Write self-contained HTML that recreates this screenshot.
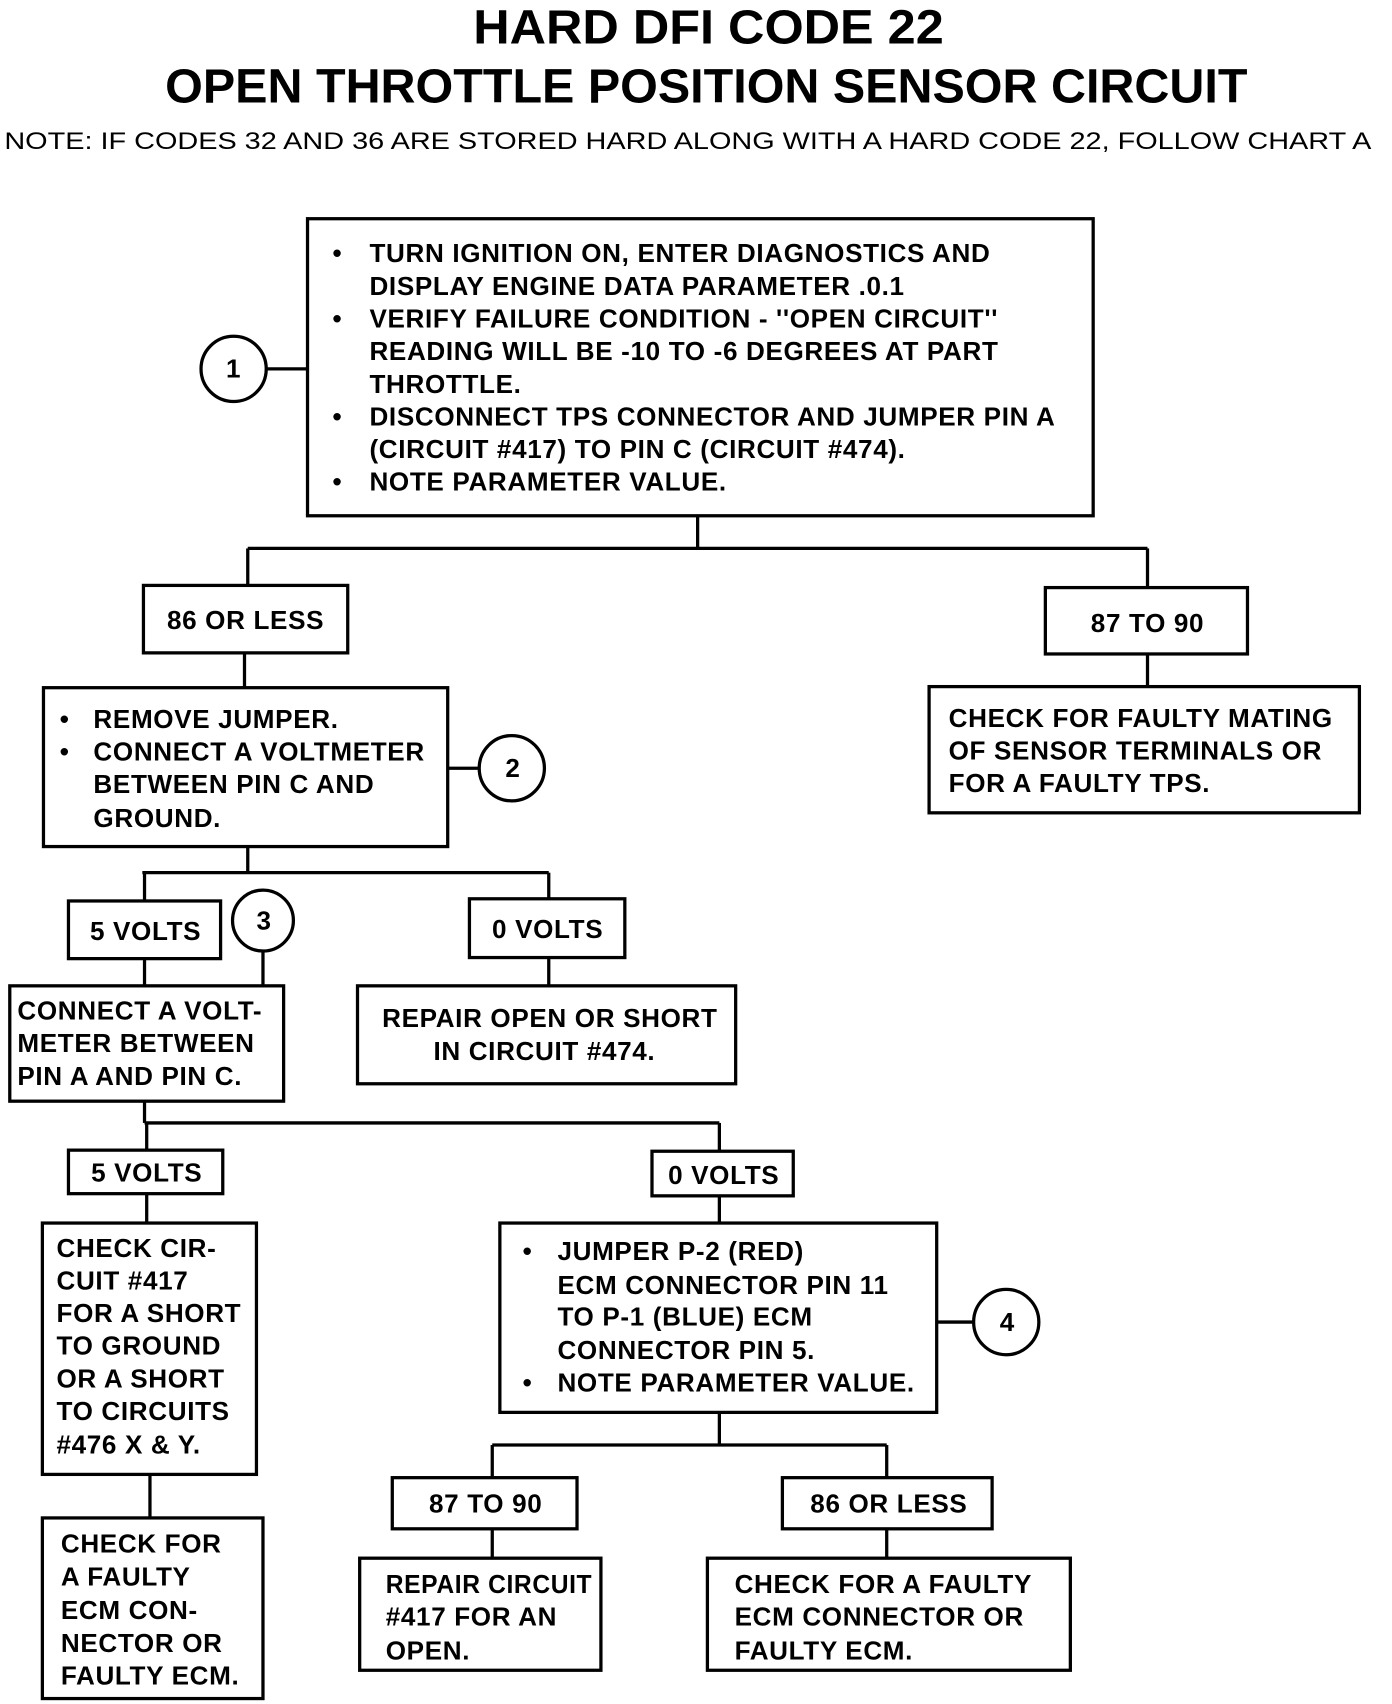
<!DOCTYPE html>
<html><head><meta charset="utf-8"><style>
html,body{margin:0;padding:0;background:#fff;}
svg{display:block;}
text{font-family:"Liberation Sans",Arial,sans-serif;font-weight:bold;fill:#000;}
.t{font-size:24px;letter-spacing:0.6px;}
.c{text-anchor:middle;}
rect,line,circle{stroke:#000;stroke-width:3;fill:none;}
</style></head><body>
<svg width="1392" height="1704" viewBox="0 0 1281 1566" preserveAspectRatio="none">
<text x="652" y="40" class="c" font-size="44" textLength="433" lengthAdjust="spacingAndGlyphs">HARD DFI CODE 22</text>
<text x="650" y="94" class="c" font-size="44" textLength="996" lengthAdjust="spacingAndGlyphs">OPEN THROTTLE POSITION SENSOR CIRCUIT</text>
<text x="4" y="137" font-size="22" style="font-weight:normal" textLength="1258" lengthAdjust="spacingAndGlyphs">NOTE:  IF CODES 32 AND 36 ARE STORED HARD ALONG WITH A HARD CODE 22, FOLLOW CHART A</text>

<rect x="283" y="201" width="723" height="273"/>
<text x="306" y="241" class="t">•</text><text x="340" y="241" class="t">TURN IGNITION ON, ENTER DIAGNOSTICS AND</text>
<text x="340" y="271" class="t">DISPLAY ENGINE DATA PARAMETER .0.1</text>
<text x="306" y="301" class="t">•</text><text x="340" y="301" class="t">VERIFY FAILURE CONDITION - ''OPEN CIRCUIT''</text>
<text x="340" y="331" class="t">READING WILL BE -10 TO -6 DEGREES AT PART</text>
<text x="340" y="361" class="t">THROTTLE.</text>
<text x="306" y="391" class="t">•</text><text x="340" y="391" class="t">DISCONNECT TPS CONNECTOR AND JUMPER PIN A</text>
<text x="340" y="421" class="t">(CIRCUIT #417) TO PIN C (CIRCUIT #474).</text>
<text x="306" y="451" class="t">•</text><text x="340" y="451" class="t">NOTE PARAMETER VALUE.</text>
<circle cx="215" cy="339" r="30"/><text x="215" y="347" class="t c">1</text>
<line x1="245" y1="339" x2="283" y2="339"/>

<line x1="642" y1="474" x2="642" y2="504"/>
<line x1="228" y1="504" x2="1056" y2="504"/>
<line x1="228" y1="504" x2="228" y2="538"/>
<line x1="1056" y1="504" x2="1056" y2="540"/>

<rect x="132" y="538" width="188" height="62"/><text x="226" y="578" class="t c">86 OR LESS</text>
<rect x="962" y="540" width="186" height="61"/><text x="1056" y="581" class="t c">87 TO 90</text>
<line x1="1056" y1="601" x2="1056" y2="631"/>
<rect x="855" y="631" width="396" height="116"/>
<text x="873" y="668" class="t">CHECK FOR FAULTY MATING</text>
<text x="873" y="698" class="t">OF SENSOR TERMINALS OR</text>
<text x="873" y="728" class="t">FOR A FAULTY TPS.</text>

<line x1="225" y1="600" x2="225" y2="632"/>
<rect x="40" y="632" width="372" height="146"/>
<text x="55" y="669" class="t">•</text><text x="86" y="669" class="t">REMOVE JUMPER.</text>
<text x="55" y="699" class="t">•</text><text x="86" y="699" class="t">CONNECT A VOLTMETER</text>
<text x="86" y="729" class="t">BETWEEN PIN C AND</text>
<text x="86" y="760" class="t">GROUND.</text>
<circle cx="471" cy="706" r="30"/><text x="472" y="714" class="t c">2</text>
<line x1="412" y1="706" x2="441" y2="706"/>

<line x1="228" y1="778" x2="228" y2="802"/>
<line x1="131" y1="802" x2="505" y2="802"/>
<line x1="133" y1="802" x2="133" y2="828"/>
<line x1="505" y1="802" x2="505" y2="826"/>
<rect x="63" y="828" width="140" height="53"/><text x="134" y="864" class="t c">5 VOLTS</text>
<rect x="432" y="826" width="143" height="54"/><text x="504" y="862" class="t c">0 VOLTS</text>
<circle cx="242" cy="846" r="28"/><text x="243" y="854" class="t c">3</text>
<line x1="242" y1="874" x2="242" y2="906"/>
<line x1="133" y1="881" x2="133" y2="906"/>
<line x1="505" y1="880" x2="505" y2="906"/>

<rect x="9" y="906" width="252" height="106"/>
<text x="16" y="937" class="t">CONNECT A VOLT-</text>
<text x="16" y="967" class="t">METER BETWEEN</text>
<text x="16" y="997" class="t">PIN A AND PIN C.</text>
<rect x="329" y="906" width="348" height="90"/>
<text x="506" y="944" class="t c">REPAIR OPEN OR SHORT</text>
<text x="501" y="974" class="t c">IN CIRCUIT #474.</text>

<line x1="133" y1="1012" x2="133" y2="1032"/>
<line x1="133" y1="1032" x2="662" y2="1032"/>
<line x1="135" y1="1032" x2="135" y2="1057"/>
<line x1="662" y1="1032" x2="662" y2="1058"/>
<rect x="63" y="1057" width="142" height="40"/><text x="135" y="1086" class="t c">5 VOLTS</text>
<rect x="600" y="1058" width="130" height="41"/><text x="666" y="1088" class="t c">0 VOLTS</text>
<line x1="135" y1="1097" x2="135" y2="1124"/>
<line x1="662" y1="1099" x2="662" y2="1124"/>

<rect x="39" y="1124" width="197" height="231"/>
<text x="52" y="1155" class="t">CHECK CIR-</text>
<text x="52" y="1185" class="t">CUIT #417</text>
<text x="52" y="1215" class="t">FOR A SHORT</text>
<text x="52" y="1245" class="t">TO GROUND</text>
<text x="52" y="1275" class="t">OR A SHORT</text>
<text x="52" y="1305" class="t">TO CIRCUITS</text>
<text x="52" y="1336" class="t">#476 X &amp; Y.</text>

<rect x="460" y="1124" width="402" height="174"/>
<text x="481" y="1158" class="t">•</text><text x="513" y="1158" class="t">JUMPER P-2 (RED)</text>
<text x="513" y="1189" class="t">ECM CONNECTOR PIN 11</text>
<text x="513" y="1218" class="t">TO P-1 (BLUE) ECM</text>
<text x="513" y="1249" class="t">CONNECTOR PIN 5.</text>
<text x="481" y="1279" class="t">•</text><text x="513" y="1279" class="t">NOTE PARAMETER VALUE.</text>
<circle cx="926" cy="1215" r="30"/><text x="927" y="1223" class="t c">4</text>
<line x1="862" y1="1215" x2="896" y2="1215"/>

<line x1="662" y1="1298" x2="662" y2="1328"/>
<line x1="453" y1="1328" x2="816" y2="1328"/>
<line x1="453" y1="1328" x2="453" y2="1358"/>
<line x1="816" y1="1328" x2="816" y2="1358"/>
<rect x="361" y="1358" width="170" height="47"/><text x="447" y="1390" class="t c">87 TO 90</text>
<rect x="720" y="1358" width="193" height="47"/><text x="818" y="1390" class="t c">86 OR LESS</text>
<line x1="453" y1="1405" x2="453" y2="1432"/>
<line x1="816" y1="1405" x2="816" y2="1432"/>

<rect x="331" y="1432" width="222" height="103"/>
<text x="355" y="1464" class="t" textLength="190" lengthAdjust="spacingAndGlyphs">REPAIR CIRCUIT</text>
<text x="355" y="1494" class="t">#417 FOR AN</text>
<text x="355" y="1525" class="t">OPEN.</text>
<rect x="651" y="1432" width="334" height="103"/>
<text x="676" y="1464" class="t">CHECK FOR A FAULTY</text>
<text x="676" y="1494" class="t">ECM CONNECTOR OR</text>
<text x="676" y="1525" class="t">FAULTY ECM.</text>

<line x1="138" y1="1355" x2="138" y2="1395"/>
<rect x="39" y="1395" width="203" height="166"/>
<text x="56" y="1427" class="t">CHECK FOR</text>
<text x="56" y="1457" class="t">A FAULTY</text>
<text x="56" y="1488" class="t">ECM CON-</text>
<text x="56" y="1518" class="t">NECTOR OR</text>
<text x="56" y="1548" class="t">FAULTY ECM.</text>
</svg>
</body></html>
